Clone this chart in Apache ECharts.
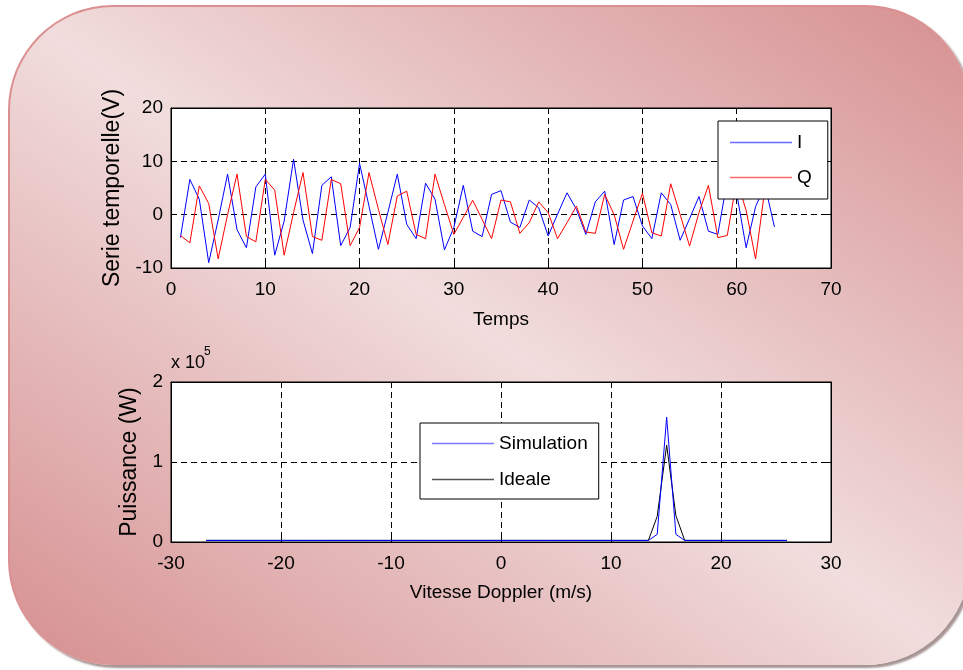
<!DOCTYPE html>
<html>
<head>
<meta charset="utf-8">
<script src="https://cdn.jsdelivr.net/npm/echarts@6.0.0/dist/echarts.min.js"></script>
<style>
  html, body { margin: 0; padding: 0; background: #ffffff; }
  #wrap { position: relative; width: 963px; height: 670px; overflow: hidden; background: #ffffff; }
  #card {
    position: absolute; left: 8px; top: 5px; width: 962px; height: 660px;
    border-radius: 105px;
    background: linear-gradient(to top right, #d68f90 0%, #f1dddd 50%, #d68f90 100%);
    border-top: 2px solid #db8f90; border-left: 2px solid #db8f90;
    box-sizing: border-box;
    box-shadow: 3px 3px 2px rgba(120, 90, 90, 0.65);
  }
  #chart { position: absolute; left: 0; top: 0; width: 963px; height: 670px; }
</style>
</head>
<body>
<div id="wrap">
  <div id="card"></div>
  <div id="chart"></div>
</div>
<script>
// ---- data ----
const temps = [1,2,3,4,5,6,7,8,9,10,11,12,13,14,15,16,17,18,19,20,21,22,23,24,25,26,27,28,29,30,31,32,
               33,34,35,36,37,38,39,40,41,42,43,44,45,46,47,48,49,50,51,52,53,54,55,56,57,58,59,60,61,62,63,64];
const serieI = [-4.3, 6.6, 2.9, -9.0, -1.0, 7.6, -2.8, -6.2, 5.2, 7.6, -7.6, -1.2, 10.4, -1.0, -7.3, 5.5,
                7.1, -5.8, -2.4, 9.6, 1.6, -6.5, 0.4, 7.6, -1.8, -4.5, 5.9, 2.9, -6.6, -2.4, 5.5, -3.1,
                -4.1, 3.8, 4.5, -1.4, -2.4, 2.75, 1.3, -4.0, 0.1, 4.1, 1.0, -3.7, 2.4, 4.4, -5.6, 2.75,
                3.4, -2.1, -4.5, 4.1, 1.9, -4.8, -0.75, 3.4, -3.1, -3.7, 6.5, 4.0, -6.2, 1.5, 5.5, -2.3];
const serieQ = [-3.9, -5.3, 5.4, 2.1, -8.3, 0.0, 7.6, -4.1, -5.1, 6.6, 4.6, -7.6, 0.4, 7.9, -4.1, -4.8,
                6.6, 5.8, -5.8, -2.4, 7.9, 1.0, -5.6, 3.5, 4.4, -3.7, -4.5, 7.6, 1.9, -3.7, -0.5, 2.7,
                -0.9, -4.5, 2.75, 2.4, -3.5, -1.5, 2.4, 0.4, -4.5, -1.5, 1.6, -3.25, -3.5, 3.8, 0.0, -6.5,
                -1.2, 4.0, -3.4, -4.0, 5.8, 0.0, -5.9, 0.4, 5.5, -4.3, -3.9, 6.5, 0.8, -8.3, 5.0, 4.5];

const vitesse    = [-26.8, 13.4, 14.2, 15.06, 15.9, 16.7, 26.0];
const simulation = [2000, 2000, 9500, 156000, 9500, 2000, 2000];
const ideale     = [2000, 2000, 32000, 121000, 33000, 2000, 2000];

const ticksTemps  = { min: 0, max: 70, step: 10 };
const ticksSerie  = { min: -10, max: 20, step: 10 };
const ticksVit    = { min: -30, max: 30, step: 10 };
const ticksPuiss  = { min: 0, max: 200000, step: 100000 };

const hFont = '"Liberation Sans", Arial, sans-serif';
const tickSize = 19;
const nameSize = 19;
const vFont = '"Liberation Sans", Arial, sans-serif';
const dash = [6, 4];

function xAx(grid, t, name, gap) {
  return [{
    type: 'value', gridIndex: grid, min: t.min, max: t.max, interval: t.step,
    axisLine: { show: true, onZero: false, lineStyle: { color: '#000', width: 1 } },
    axisTick: { show: true, inside: true, length: 5, lineStyle: { color: '#000' } },
    axisLabel: { color: '#000', fontFamily: hFont, fontSize: tickSize, margin: 12 },
    splitLine: { show: true, lineStyle: { color: '#000', width: 1, type: dash } },
    name: name, nameLocation: 'middle', nameGap: gap,
    nameTextStyle: { color: '#000', fontFamily: hFont, fontSize: nameSize }
  }, {
    type: 'value', gridIndex: grid, position: 'top', min: t.min, max: t.max, interval: t.step,
    axisLine: { show: true, onZero: false, lineStyle: { color: '#000', width: 1 } },
    axisTick: { show: true, inside: true, length: 5, lineStyle: { color: '#000' } },
    axisLabel: { show: false }, splitLine: { show: false }
  }];
}
function yAx(grid, t, name, gap, fmt) {
  return [{
    type: 'value', gridIndex: grid, min: t.min, max: t.max, interval: t.step,
    axisLine: { show: true, onZero: false, lineStyle: { color: '#000', width: 1 } },
    axisTick: { show: true, inside: true, length: 5, lineStyle: { color: '#000' } },
    axisLabel: { color: '#000', fontFamily: hFont, fontSize: tickSize, margin: 8, formatter: fmt },
    splitLine: { show: true, lineStyle: { color: '#000', width: 1, type: dash } },
    name: name, nameLocation: 'middle', nameGap: gap, nameRotate: 90,
    nameTextStyle: { color: '#000', fontFamily: vFont, fontSize: 23 }
  }, {
    type: 'value', gridIndex: grid, position: 'right', min: t.min, max: t.max, interval: t.step,
    axisLine: { show: true, onZero: false, lineStyle: { color: '#000', width: 1 } },
    axisTick: { show: true, inside: true, length: 5, lineStyle: { color: '#000' } },
    axisLabel: { show: false }, splitLine: { show: false }
  }];
}

const legendCommon = {
  orient: 'vertical', icon: 'rect', itemWidth: 62, itemHeight: 1.5,
  borderColor: '#000', borderWidth: 1, backgroundColor: '#fff', borderRadius: 0,
  textStyle: { color: '#000', fontFamily: hFont, fontSize: nameSize },
  z: 10
};
function legendItem(name, color) {
  return { name: name, icon: 'rect', itemStyle: { color: color, borderWidth: 0, opacity: 1 } };
}

const chart = echarts.init(document.getElementById('chart'), null, { renderer: 'canvas' });
chart.setOption({
  animation: false,
  backgroundColor: 'transparent',
  grid: [
    { left: 171, top: 108, width: 660, height: 160, show: true, backgroundColor: '#fff', borderColor: '#000', borderWidth: 1 },
    { left: 171, top: 382, width: 660, height: 160, show: true, backgroundColor: '#fff', borderColor: '#000', borderWidth: 1 }
  ],
  xAxis: [].concat(xAx(0, ticksTemps, 'Temps', 42), xAx(1, ticksVit, 'Vitesse Doppler (m/s)', 41)),
  yAxis: [].concat(yAx(0, ticksSerie, 'Serie temporelle(V)', 44), yAx(1, ticksPuiss, 'Puissance (W)', 25, v => String(v / 100000))),
  legend: [
    Object.assign({}, legendCommon, {
      data: [legendItem('I', '#6a6aff'), legendItem('Q', '#ff6a6a')],
      left: 718, top: 121, itemGap: 16, padding: [12, 16, 12, 12] }),
    Object.assign({}, legendCommon, {
      data: [legendItem('Simulation', '#7a7aff'), legendItem('Ideale', '#555555')],
      left: 420, top: 423, itemGap: 17, padding: [11, 11, 10, 12] })
  ],
  graphic: [
    { type: 'text', left: 171, top: 354, style: { text: 'x 10', fill: '#000', font: '18px ' + hFont } },
    { type: 'text', left: 204, top: 346, style: { text: '5', fill: '#000', font: '12px ' + hFont } }
  ],
  series: [
    { name: 'I', type: 'line', xAxisIndex: 0, yAxisIndex: 0, symbol: 'none', color: '#0000ff',
      lineStyle: { width: 1, color: '#0000ff' }, data: temps.map((t, i) => [t, serieI[i]]) },
    { name: 'Q', type: 'line', xAxisIndex: 0, yAxisIndex: 0, symbol: 'none', color: '#ff0000',
      lineStyle: { width: 1, color: '#ff0000' }, data: temps.map((t, i) => [t, serieQ[i]]) },
    { name: 'Ideale', type: 'line', xAxisIndex: 2, yAxisIndex: 2, symbol: 'none', color: '#000000',
      lineStyle: { width: 1, color: '#000000' }, data: vitesse.map((v, i) => [v, ideale[i]]) },
    { name: 'Simulation', type: 'line', xAxisIndex: 2, yAxisIndex: 2, symbol: 'none', color: '#0000ff',
      lineStyle: { width: 1, color: '#0000ff' }, data: vitesse.map((v, i) => [v, simulation[i]]) }
  ]
});
</script>
</body>
</html>
